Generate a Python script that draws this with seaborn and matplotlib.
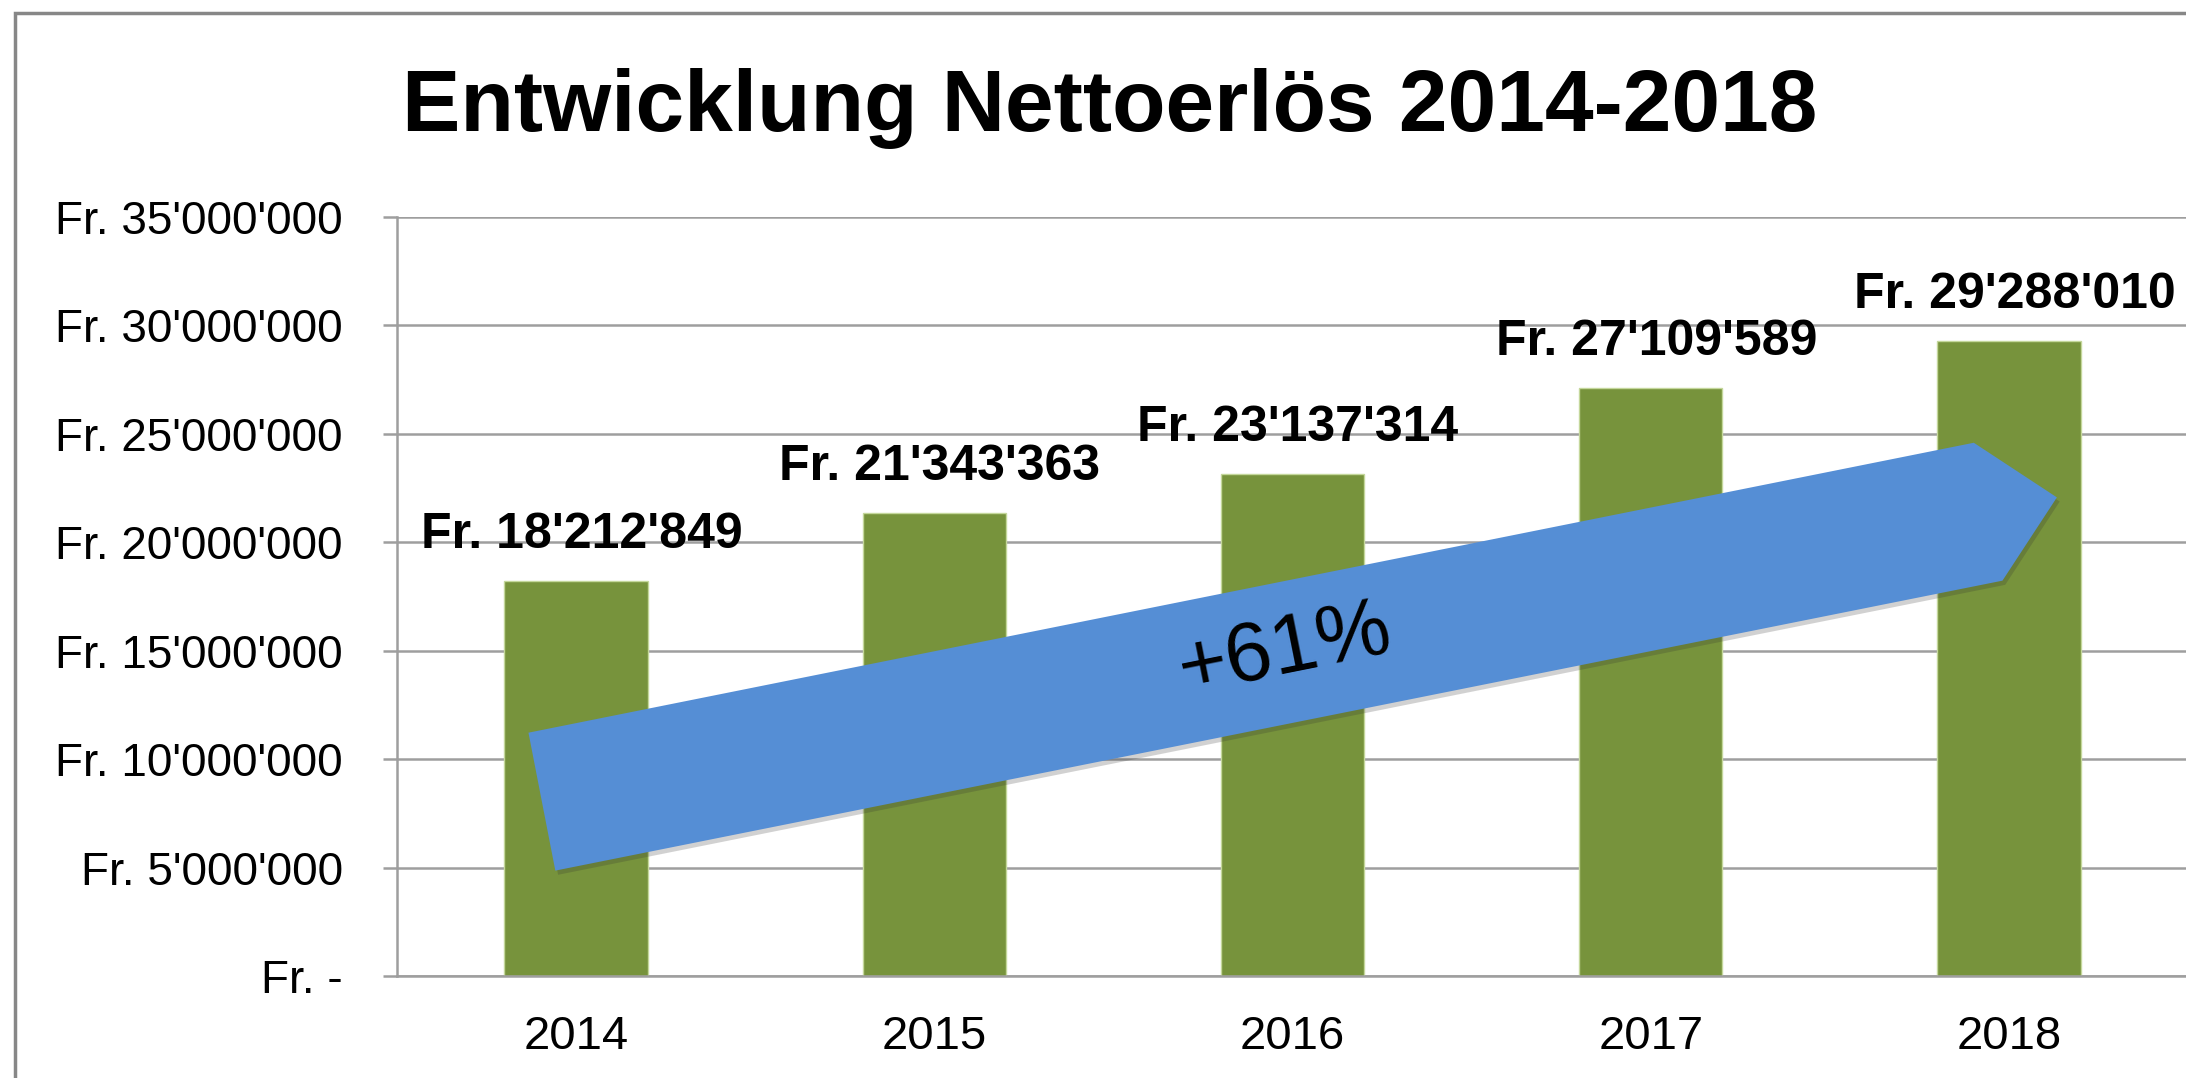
import numpy as np
import matplotlib
matplotlib.use('Agg')
import matplotlib.pyplot as plt
import matplotlib.patches as mpatches
from matplotlib import patheffects
from matplotlib.ticker import FuncFormatter
import seaborn as sns

# data
years = ['2014', '2015', '2016', '2017', '2018']
revenue = [18212849, 21343363, 23137314, 27109589, 29288010]
growth_label = '+61%'
title = 'Entwicklung Nettoerlös 2014-2018'

# arrow outline in data units (x = category index, y = Fr.)
arrow_x = [-0.133, 3.902, 4.134, 3.982, -0.058]
arrow_y = [11.22e6, 24.59e6, 22.07e6, 18.23e6, 4.86e6]

BAR_COLOR = '#77933C'
ARROW_COLOR = '#558ED5'
GRID_COLOR = '#9E9E9E'


def fr(v):
    if v == 0:
        return 'Fr. -'
    return 'Fr. ' + f'{v:,.0f}'.replace(',', "'")


sns.set_style('white')
plt.rcParams['font.family'] = ['Liberation Sans', 'DejaVu Sans']
plt.rcParams['text.color'] = 'black'

W, H = 2186, 1078
fig = plt.figure(figsize=(W / 100, H / 100), dpi=100)
ax = fig.add_axes([397 / W, 102 / H, 1791 / W, 759 / H])

sns.barplot(x=years, y=revenue, color=BAR_COLOR, saturation=1, width=0.4,
            edgecolor='#C4D79B', linewidth=1, ax=ax, zorder=2)

ax.set_xlim(-0.5, 4.5)
ax.set_ylim(0, 35e6)
ax.set_yticks(np.arange(0, 35e6 + 1, 5e6))
ax.yaxis.set_major_formatter(FuncFormatter(lambda v, p: fr(v)))
ax.yaxis.grid(True, color=GRID_COLOR, lw=1.8, zorder=0)
ax.set_axisbelow(True)
ax.set_xlabel('')
ax.set_ylabel('')

for side in ['top', 'right']:
    ax.spines[side].set_visible(False)
for side in ['left', 'bottom']:
    ax.spines[side].set_color(GRID_COLOR)
    ax.spines[side].set_linewidth(1.8)

ax.set_xticks(np.arange(-0.5, 5, 1), minor=True)
ax.tick_params(axis='x', which='major', length=0, pad=28, labelsize=34, labelcolor='black')
ax.tick_params(axis='x', which='minor', length=12, width=1.8, color=GRID_COLOR, direction='out')
ax.tick_params(axis='y', which='major', length=10, width=1.8, color=GRID_COLOR,
               pad=29, labelsize=33, labelcolor='black', left=True)

# value labels
for i, v in enumerate(revenue):
    ax.annotate(fr(v), (i, v), xytext=(4, 24), textcoords='offset points',
                ha='center', va='baseline', fontsize=36, fontweight='bold',
                color='black', zorder=4)

# growth arrow
arrow = mpatches.Polygon(np.column_stack([arrow_x, arrow_y]), closed=True,
                         facecolor=ARROW_COLOR, edgecolor='none', zorder=3)
arrow.set_path_effects([patheffects.SimplePatchShadow(offset=(2, -3), alpha=0.22,
                                                      shadow_rgbFace='#303030'),
                        patheffects.Normal()])
ax.add_patch(arrow)
ax.text(1.979, 15.03e6, growth_label, rotation=11.3, rotation_mode='anchor',
        ha='center', va='center', fontsize=60, color='black', zorder=4)

fig.text(1109.5 / W, 1 - 131 / H, title, ha='center', va='baseline',
         fontsize=63, fontweight='bold', color='black')

# outer frame (cut off at right and bottom)
frame = mpatches.Rectangle((15 / W, -0.2), 1.5, 1.2 - 13 / H, transform=fig.transFigure,
                           fill=False, edgecolor='#878787', lw=2.5)
fig.patches.append(frame)

fig.savefig('out.png', dpi=100)
